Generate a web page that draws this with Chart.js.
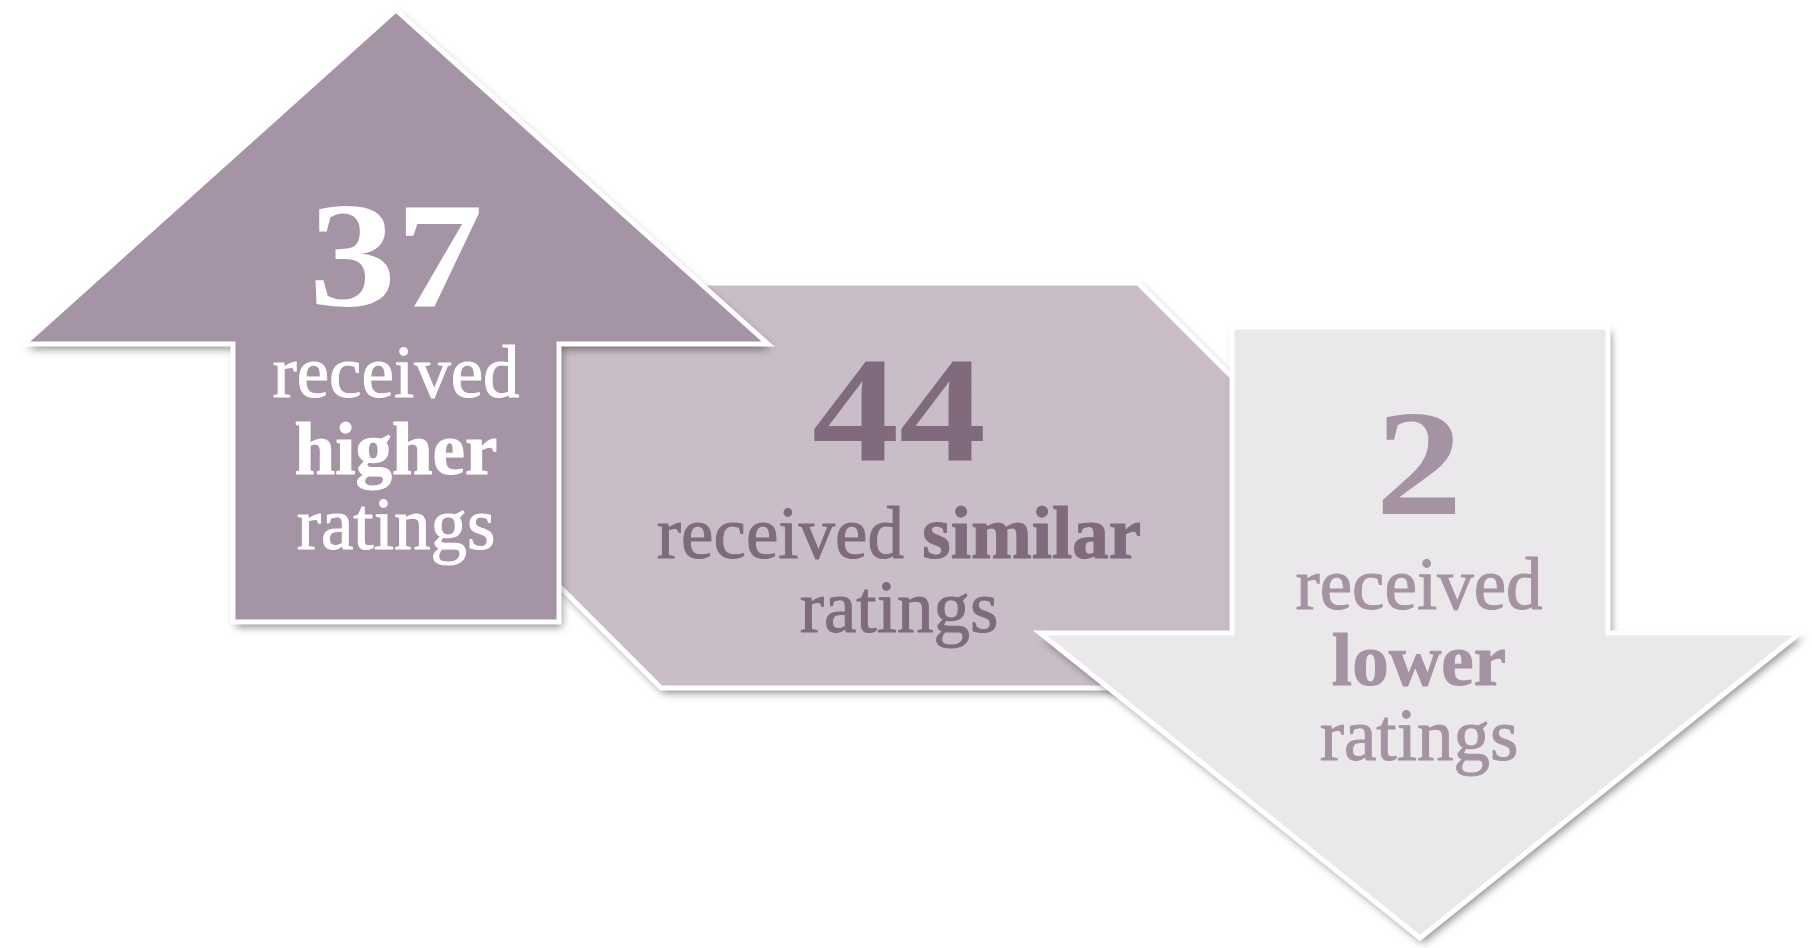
<!DOCTYPE html>
<html>
<head>
<meta charset="utf-8">
<script src="https://cdn.jsdelivr.net/npm/chart.js@4.4.1/dist/chart.umd.min.js"></script>
<style>
  html, body { margin: 0; padding: 0; background: #fff; }
  #wrap { width: 1812px; height: 948px; }
</style>
</head>
<body>
<div id="wrap"><canvas id="chart" width="1812" height="948"></canvas></div>
<script>
// counts shown in the three arrows
const counts = [37, 44, 2];
const ratingWords = ['higher', 'similar', 'lower'];
const leadWord = 'received';
const tailWord = 'ratings';

// colours
const fillColors = ['#a594a5', '#c9bdc8', '#ebe8eb'];
const textColors = ['#ffffff', '#806b7e', '#a593a4'];

// shape geometry, in page pixel units of the x/y scales
const upArrow = { cx: 396, tip: 10, wing: 344, head: 372, shaft: 163, base: 622 };
const band = { left: 470, right: 1300, top: 283, bottom: 688, topCorner: 1138, bottomCorner: 661 };
const downArrow = { cx: 1420, top: 327, wing: 633, head: 380, shaft: 188, tip: 938 };

// text anchors: centre x, number baseline, then baselines of the text lines
const textLayout = [
  { x: 396, num: 306, lines: [397, 474, 549] },
  { x: 899, num: 461, lines: [558, 632] },
  { x: 1419, num: 514, lines: [609, 685, 760] }
];

function upPoly(a) {
  return [
    { x: a.cx, y: a.base },
    { x: a.cx - a.shaft, y: a.base },
    { x: a.cx - a.shaft, y: a.wing },
    { x: a.cx - a.head, y: a.wing },
    { x: a.cx, y: a.tip },
    { x: a.cx + a.head, y: a.wing },
    { x: a.cx + a.shaft, y: a.wing },
    { x: a.cx + a.shaft, y: a.base },
    { x: a.cx, y: a.base }
  ];
}

function downPoly(a) {
  return [
    { x: a.cx, y: a.top },
    { x: a.cx + a.shaft, y: a.top },
    { x: a.cx + a.shaft, y: a.wing },
    { x: a.cx + a.head, y: a.wing },
    { x: a.cx, y: a.tip },
    { x: a.cx - a.head, y: a.wing },
    { x: a.cx - a.shaft, y: a.wing },
    { x: a.cx - a.shaft, y: a.top },
    { x: a.cx, y: a.top }
  ];
}

function bandPoly(b) {
  const mid = (b.left + b.right) / 2;
  return [
    { x: mid, y: b.top },
    { x: b.topCorner, y: b.top },
    { x: b.right, y: b.top + (b.right - b.topCorner) },
    { x: b.right, y: b.bottom },
    { x: b.bottomCorner, y: b.bottom },
    { x: b.left, y: b.bottom - (b.bottomCorner - b.left) },
    { x: b.left, y: b.top },
    { x: mid, y: b.top }
  ];
}

function shapeDataset(data, color) {
  return {
    data: data,
    showLine: true,
    fill: 'shape',
    backgroundColor: color,
    borderColor: '#ffffff',
    borderWidth: 5,
    borderJoinStyle: 'miter',
    pointRadius: 0,
    tension: 0
  };
}

// shadow only on the fills, not on the white outline
const shadowPlugin = {
  id: 'shapeShadow',
  beforeDatasetsDraw(chart) {
    const ctx = chart.ctx;
    ctx.save();
    ctx.shadowColor = 'rgba(0, 0, 0, 0.45)';
    ctx.shadowBlur = 9;
    ctx.shadowOffsetX = 3;
    ctx.shadowOffsetY = 5;
  },
  beforeDatasetDraw(chart) {
    chart.ctx.shadowColor = 'rgba(0, 0, 0, 0)';
  },
  afterDatasetDraw(chart) {
    chart.ctx.shadowColor = 'rgba(0, 0, 0, 0.45)';
  },
  afterDatasetsDraw(chart) {
    chart.ctx.restore();
  }
};

const SERIF = '"Liberation Serif", "DejaVu Serif", serif';

function drawParts(ctx, parts, cx, y, color) {
  // parts: [{ text, bold }] drawn on one line, centred on cx
  let total = 0;
  parts.forEach(p => {
    ctx.font = (p.bold ? 'bold ' : '') + '73px ' + SERIF;
    p.w = ctx.measureText(p.text).width;
    total += p.w;
  });
  ctx.save();
  ctx.translate(cx, y);
  ctx.fillStyle = color;
  ctx.strokeStyle = color;
  ctx.lineWidth = 1;
  ctx.lineJoin = 'round';
  ctx.textAlign = 'left';
  ctx.textBaseline = 'alphabetic';
  let x = -total / 2;
  parts.forEach(p => {
    ctx.font = (p.bold ? 'bold ' : '') + '73px ' + SERIF;
    ctx.fillText(p.text, x, 0);
    ctx.strokeText(p.text, x, 0);
    x += p.w;
  });
  ctx.restore();
}

const labelPlugin = {
  id: 'arrowLabels',
  afterDraw(chart) {
    const ctx = chart.ctx;
    const xs = chart.scales.x;
    const ys = chart.scales.y;
    counts.forEach((n, i) => {
      const L = textLayout[i];
      const cx = xs.getPixelForValue(L.x);
      // big number, stretched a little wider like the poster-style digits
      ctx.save();
      ctx.translate(cx, ys.getPixelForValue(L.num));
      ctx.scale(1.16, 1);
      ctx.fillStyle = textColors[i];
      ctx.font = 'bold 150px ' + SERIF;
      ctx.textAlign = 'center';
      ctx.textBaseline = 'alphabetic';
      ctx.fillText(String(n), 0, 0);
      ctx.restore();

      let rows;
      if (L.lines.length === 3) {
        rows = [
          [{ text: leadWord }],
          [{ text: ratingWords[i], bold: true }],
          [{ text: tailWord }]
        ];
      } else {
        rows = [
          [{ text: leadWord + ' ' }, { text: ratingWords[i], bold: true }],
          [{ text: tailWord }]
        ];
      }
      rows.forEach((parts, r) => {
        drawParts(ctx, parts, cx, ys.getPixelForValue(L.lines[r]), textColors[i]);
      });
    });
  }
};

const ctx = document.getElementById('chart').getContext('2d');
new Chart(ctx, {
  type: 'scatter',
  data: {
    datasets: [
      shapeDataset(upPoly(upArrow), fillColors[0]),
      shapeDataset(downPoly(downArrow), fillColors[2]),
      shapeDataset(bandPoly(band), fillColors[1])
    ]
  },
  options: {
    responsive: false,
    animation: false,
    layout: { padding: 0 },
    scales: {
      x: { type: 'linear', min: 0, max: 1812, display: false },
      y: { type: 'linear', min: 0, max: 948, reverse: true, display: false }
    },
    plugins: {
      legend: { display: false },
      tooltip: { enabled: false }
    }
  },
  plugins: [shadowPlugin, labelPlugin]
});
</script>
</body>
</html>
